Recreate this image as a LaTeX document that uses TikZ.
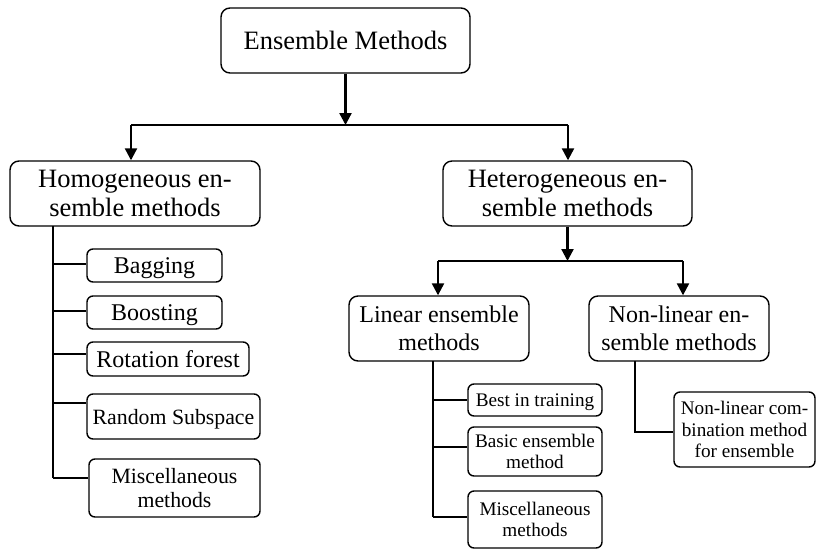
\documentclass[tikz,border=0pt]{standalone}
\usepackage{fontspec}
\setmainfont{Liberation Serif}
\usetikzlibrary{arrows.meta}
\begin{document}
\begin{tikzpicture}[x=1pt,y=-1pt,
  box/.style={draw, line width=1.4pt, rounded corners=9pt, align=center, inner sep=0pt},
  sbox/.style={draw, line width=1.4pt, rounded corners=6pt, align=center, inner sep=0pt},
  one/.style={text depth=0pt},
  fL/.style={font=\fontsize{26.5}{29}\selectfont},
  fM/.style={font=\fontsize{24}{28}\selectfont},
  fS/.style={font=\fontsize{21.8}{24}\selectfont},
  fT/.style={font=\fontsize{19.2}{21.5}\selectfont},
  arr/.style={line width=2.3pt, -{Triangle[length=12pt,width=12pt]}},
  ln/.style={line width=1.5pt}]
\useasboundingbox (0,0) rectangle (817,550);
% main nodes
\node[box,one,fL,minimum width=249pt,minimum height=65pt] (root) at (345.5,40.5) {Ensemble Methods};
\node[box,fL,minimum width=250pt,minimum height=65pt] (homo) at (135,193.5) {Homogeneous en-\\semble methods};
\node[box,fL,minimum width=249pt,minimum height=65pt] (hetero) at (567.5,193.5) {Heterogeneous en-\\semble methods};
\node[box,fM,minimum width=180pt,minimum height=65pt] (lin) at (439,328.5) {Linear ensemble\\methods};
\node[box,fM,minimum width=180pt,minimum height=65pt] (nonlin) at (679,328.5) {Non-linear en-\\semble methods};
% homogeneous children
\node[sbox,one,fM,minimum width=135pt,minimum height=33pt] (bag) at (154.5,265.5) {Bagging};
\node[sbox,one,fM,minimum width=135pt,minimum height=33pt] (boost) at (154.5,312.5) {Boosting};
\node[sbox,one,fM,minimum width=162pt,minimum height=34pt] (rot) at (168,359) {Rotation forest};
\node[sbox,one,fS,minimum width=173pt,minimum height=45pt] (rand) at (173.5,416.5) {Random Subspace};
\node[sbox,fS,minimum width=171pt,minimum height=58pt] (misca) at (174.5,488) {Miscellaneous\\methods};
% linear children
\node[sbox,one,fT,minimum width=134pt,minimum height=32pt] (best) at (535,400) {Best in training};
\node[sbox,fT,minimum width=134pt,minimum height=49pt] (basic) at (535,451.5) {Basic ensemble\\method};
\node[sbox,fT,minimum width=134pt,minimum height=57pt] (miscb) at (535,519.5) {Miscellaneous\\methods};
% non-linear child
\node[sbox,fT,minimum width=141pt,minimum height=75pt] (nlc) at (744.5,429.5) {Non-linear com-\\bination method\\for ensemble};
% top level connectors
\coordinate (j1) at (345.5,125);
\coordinate (hl) at (131,125);
\coordinate (hr) at (568,125);
\draw[arr] (root.south) -- (j1);
\draw[ln] (hl) -- (hr);
\draw[arr] (hl) -- (hl |- homo.north);
\draw[arr] (hr) -- (hr |- hetero.north);
% hetero connectors
\coordinate (j2) at (567.5,261);
\coordinate (ll) at (438,261);
\coordinate (lr) at (683,261);
\draw[arr] (hetero.south) -- (j2);
\draw[ln] (ll) -- (lr);
\draw[arr] (ll) -- (ll |- lin.north);
\draw[arr] (lr) -- (lr |- nonlin.north);
% homogeneous trunk
\coordinate (ht0) at (53,226);
\coordinate (ht1) at (53,264);
\coordinate (ht2) at (53,311);
\coordinate (ht3) at (53,354);
\coordinate (ht4) at (53,403);
\coordinate (ht5) at (53,478);
\draw[ln] (ht0) -- (ht5);
\draw[ln] (ht1) -- (ht1 -| bag.west);
\draw[ln] (ht2) -- (ht2 -| boost.west);
\draw[ln] (ht3) -- (ht3 -| rot.west);
\draw[ln] (ht4) -- (ht4 -| rand.west);
\draw[ln] (ht5) -- (ht5 -| misca.west);
% linear trunk
\coordinate (lt0) at (433,361);
\coordinate (lt1) at (433,400);
\coordinate (lt2) at (433,447);
\coordinate (lt3) at (433,517);
\draw[ln] (lt0) -- (lt3);
\draw[ln] (lt1) -- (lt1 -| best.west);
\draw[ln] (lt2) -- (lt2 -| basic.west);
\draw[ln] (lt3) -- (lt3 -| miscb.west);
% non-linear trunk
\coordinate (nt0) at (635,361);
\coordinate (nt1) at (635,432);
\draw[ln] (nt0) -- (nt1) -- (nt1 -| nlc.west);
\end{tikzpicture}
\end{document}
